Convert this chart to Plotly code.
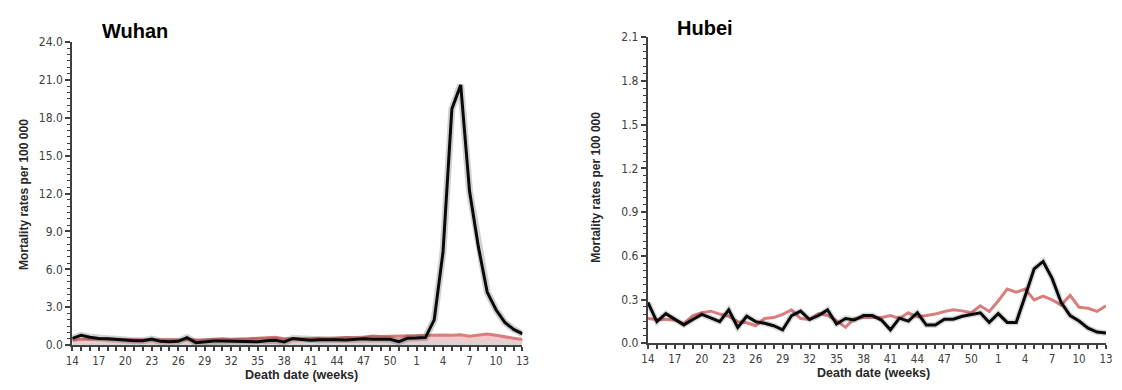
import plotly.graph_objects as go

weeks = list(range(14, 53)) + list(range(1, 14))
tick_labels = ["14", "17", "20", "23", "26", "29", "32", "35", "38", "41", "44", "47", "50",
               "1", "4", "7", "10", "13"]

wuhan_observed = [0.53, 0.78, 0.63, 0.52, 0.50, 0.46, 0.36, 0.35, 0.35, 0.48, 0.30, 0.27, 0.30,
                  0.60, 0.20, 0.28, 0.33, 0.33, 0.32, 0.32, 0.30, 0.27, 0.35, 0.38, 0.25, 0.53,
                  0.45, 0.38, 0.42, 0.44, 0.42, 0.40, 0.45, 0.50, 0.47, 0.47, 0.46, 0.27, 0.55,
                  0.56, 0.60, 2.0, 7.4, 18.7, 20.6, 12.2, 7.8, 4.2, 2.8, 1.8, 1.25, 0.9]
wuhan_expected = [0.40, 0.45, 0.50, 0.50, 0.48, 0.45, 0.45, 0.42, 0.40, 0.42, 0.40, 0.42, 0.40,
                  0.45, 0.40, 0.42, 0.45, 0.50, 0.45, 0.45, 0.50, 0.55, 0.60, 0.62, 0.50, 0.50,
                  0.48, 0.50, 0.55, 0.50, 0.55, 0.60, 0.58, 0.60, 0.72, 0.68, 0.70, 0.72, 0.75,
                  0.78, 0.80, 0.80, 0.80, 0.78, 0.82, 0.70, 0.80, 0.88, 0.78, 0.65, 0.55, 0.45]
wuhan_band_low = [0.18, 0.20, 0.20, 0.20, 0.20, 0.18, 0.18, 0.18, 0.18, 0.18, 0.18, 0.18, 0.18,
                  0.18, 0.18, 0.18, 0.18, 0.20, 0.18, 0.18, 0.20, 0.20, 0.22, 0.22, 0.20, 0.20,
                  0.20, 0.20, 0.20, 0.20, 0.20, 0.22, 0.22, 0.22, 0.25, 0.25, 0.25, 0.25, 0.25,
                  0.25, 0.25, 0.25, 0.25, 0.25, 0.25, 0.25, 0.25, 0.25, 0.25, 0.22, 0.20, 0.18]

hubei_observed = [0.280, 0.148, 0.203, 0.163, 0.126, 0.163, 0.198, 0.174, 0.148, 0.229, 0.108,
                  0.185, 0.148, 0.137, 0.120, 0.092, 0.190, 0.220, 0.163, 0.190, 0.229, 0.132,
                  0.170, 0.159, 0.190, 0.190, 0.159, 0.092, 0.172, 0.152, 0.209, 0.125, 0.125,
                  0.165, 0.165, 0.185, 0.196, 0.209, 0.143, 0.203, 0.143, 0.143, 0.324, 0.510,
                  0.561, 0.445, 0.280, 0.190, 0.152, 0.104, 0.077, 0.070]
hubei_expected = [0.170, 0.163, 0.163, 0.160, 0.135, 0.190, 0.210, 0.220, 0.200, 0.185, 0.148,
                  0.140, 0.120, 0.170, 0.176, 0.198, 0.229, 0.170, 0.163, 0.203, 0.190, 0.154,
                  0.110, 0.170, 0.176, 0.176, 0.176, 0.190, 0.170, 0.209, 0.180, 0.190, 0.200,
                  0.218, 0.230, 0.222, 0.209, 0.257, 0.218, 0.290, 0.372, 0.350, 0.372, 0.297,
                  0.323, 0.297, 0.262, 0.328, 0.247, 0.240, 0.218, 0.257]

x = list(range(len(weeks)))
tick_vals = [i for i in x if i % 3 == 0]

RED = "rgb(218,125,125)"
BLACK = "rgb(10,10,10)"
AXIS = "rgb(64,64,64)"
TICKFONT = "DejaVu Sans Condensed"
LABELFONT = "Liberation Sans"

# page has an 8px body margin: figure size chosen so the page is 1122x390
PAGE_MARGIN = 8
W, H = 1122 - 2 * PAGE_MARGIN, 390 - 2 * PAGE_MARGIN


def fx(px):
    return (px - PAGE_MARGIN) / W


def fy(py):
    return 1 - (py - PAGE_MARGIN) / H


fig = go.Figure()

# Wuhan bands
fig.add_trace(go.Scatter(x=x, y=[0] * len(x), mode="lines", line=dict(width=0),
                         showlegend=False, hoverinfo="skip", xaxis="x", yaxis="y"))
fig.add_trace(go.Scatter(x=x, y=wuhan_band_low, mode="lines", line=dict(width=0),
                         fill="tonexty", fillcolor="rgba(185,185,185,0.6)",
                         showlegend=False, hoverinfo="skip", xaxis="x", yaxis="y"))
fig.add_trace(go.Scatter(x=x, y=wuhan_expected, mode="lines",
                         line=dict(color=RED, width=3), fill="tonexty",
                         fillcolor="rgba(218,125,125,0.40)",
                         showlegend=False, xaxis="x", yaxis="y"))
fig.add_trace(go.Scatter(x=x, y=wuhan_observed, mode="lines",
                         line=dict(color="rgba(0,0,0,0.18)", width=7),
                         showlegend=False, hoverinfo="skip", xaxis="x", yaxis="y"))
fig.add_trace(go.Scatter(x=x, y=wuhan_observed, mode="lines",
                         line=dict(color=BLACK, width=3),
                         showlegend=False, xaxis="x", yaxis="y"))

# Hubei
fig.add_trace(go.Scatter(x=x, y=hubei_expected, mode="lines",
                         line=dict(color=RED, width=3),
                         showlegend=False, xaxis="x2", yaxis="y2"))
fig.add_trace(go.Scatter(x=x, y=hubei_observed, mode="lines",
                         line=dict(color="rgba(0,0,0,0.15)", width=6),
                         showlegend=False, hoverinfo="skip", xaxis="x2", yaxis="y2"))
fig.add_trace(go.Scatter(x=x, y=hubei_observed, mode="lines",
                         line=dict(color=BLACK, width=3),
                         showlegend=False, xaxis="x2", yaxis="y2"))


def xaxis_cfg(x0, x1, anchor):
    return dict(domain=[fx(x0), fx(x1)], range=[0, len(x) - 1], anchor=anchor,
                tickvals=tick_vals, ticktext=tick_labels,
                showgrid=False, zeroline=False, showline=True,
                linecolor=AXIS, linewidth=2, ticks="outside", ticklen=4,
                tickwidth=1.5, tickcolor=AXIS,
                minor=dict(dtick=1, ticks="outside", ticklen=4, tickwidth=1.5,
                           tickcolor=AXIS, tick0=0),
                tickfont=dict(family=TICKFONT, size=11.5, color=AXIS))


def yaxis_cfg(y_bottom, y_top, top, dt, mdt, anchor):
    return dict(domain=[fy(y_bottom), fy(y_top)], range=[0, top], anchor=anchor,
                dtick=dt, tick0=0, tickformat=".1f",
                showgrid=False, zeroline=False, showline=True,
                linecolor=AXIS, linewidth=2, ticks="outside", ticklen=5,
                tickwidth=1.5, tickcolor=AXIS,
                minor=dict(dtick=mdt, ticks="outside", ticklen=3, tickwidth=1,
                           tickcolor=AXIS),
                tickfont=dict(family=TICKFONT, size=12, color=AXIS))


fig.update_layout(
    width=W, height=H,
    margin=dict(l=0, r=0, t=0, b=0),
    paper_bgcolor="white", plot_bgcolor="white",
    xaxis=xaxis_cfg(66, 522, "y"),
    yaxis=yaxis_cfg(351, 36, 24.0, 3.0, 0.5, "x"),
    xaxis2=xaxis_cfg(649, 1113, "y2"),
    yaxis2=yaxis_cfg(349, 31, 2.1, 0.3, 0.05, "x2"),
)

ann = []
ann.append(dict(text="<b>Wuhan</b>", x=fx(94), y=fy(25), xref="paper", yref="paper",
                xanchor="left", yanchor="middle", showarrow=False,
                font=dict(family=LABELFONT, size=20, color="black")))
ann.append(dict(text="<b>Hubei</b>", x=fx(676), y=fy(21), xref="paper", yref="paper",
                xanchor="left", yanchor="middle", showarrow=False,
                font=dict(family=LABELFONT, size=20, color="black")))
for cx, cy in [(17, 194), (597, 187)]:
    ann.append(dict(text="<b>Mortality rates per 100 000</b>", x=fx(cx), y=fy(cy),
                    xref="paper", yref="paper", textangle=-90, showarrow=False,
                    xanchor="center", yanchor="middle",
                    font=dict(family=LABELFONT, size=12, color="rgb(40,40,40)")))
for cx, cy in [(298, 382), (877, 380)]:
    ann.append(dict(text="<b>Death date (weeks)</b>", x=fx(cx), y=fy(cy),
                    xref="paper", yref="paper", showarrow=False, borderpad=0,
                    xanchor="center", yanchor="middle",
                    font=dict(family=LABELFONT, size=12.5, color="rgb(40,40,40)")))
fig.update_layout(annotations=ann)

fig.write_html("out.html", config={"displayModeBar": False})
